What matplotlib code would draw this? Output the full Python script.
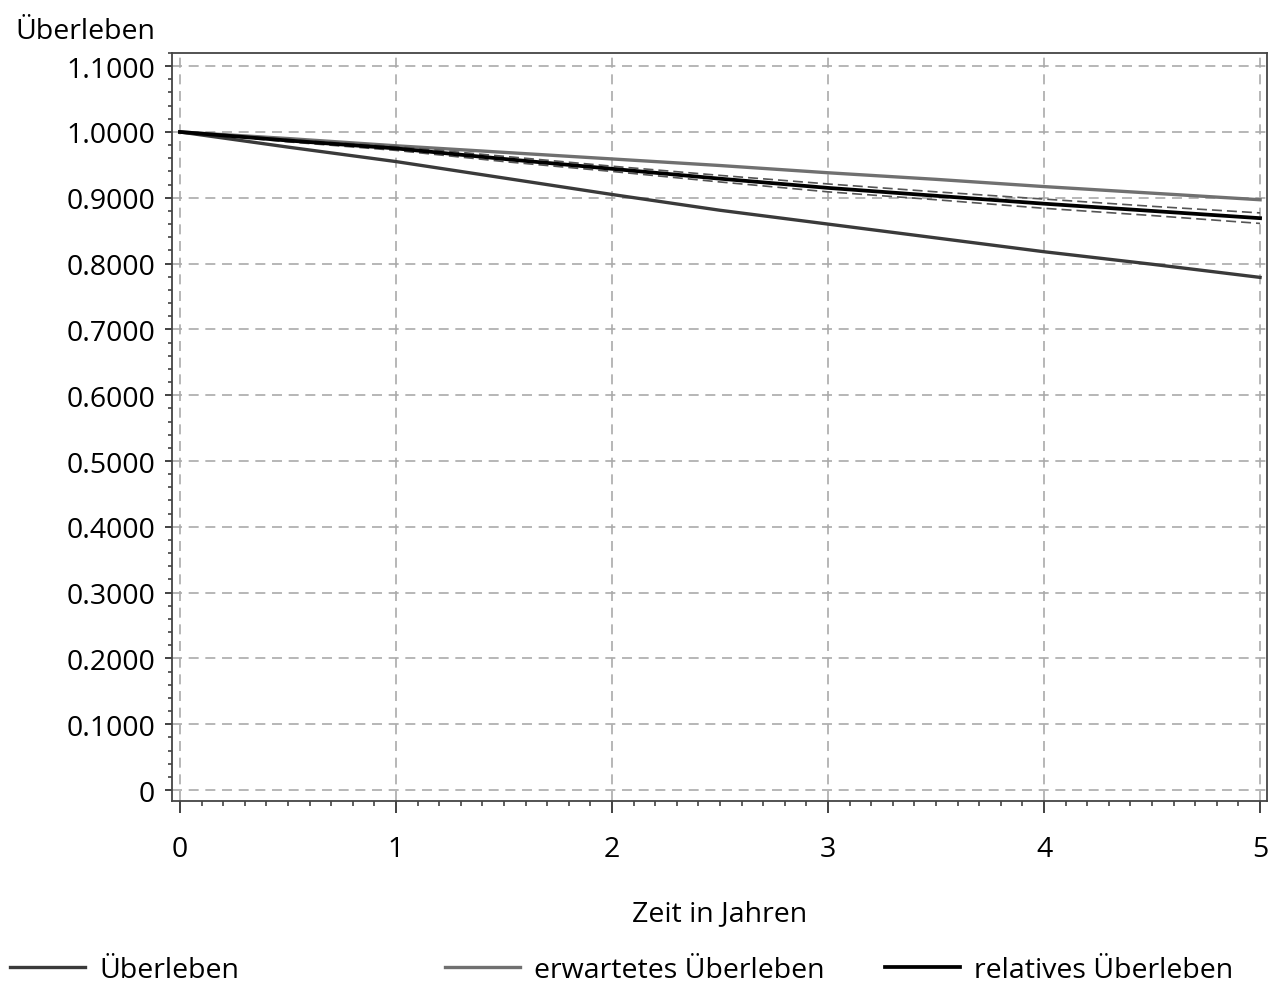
import matplotlib.pyplot as plt
import numpy as np
from matplotlib.ticker import MultipleLocator, FixedLocator

plt.rcParams['font.family'] = ['Open Sans', 'DejaVu Sans']

# Daten
zeit = [0, 0.5, 1, 1.5, 2, 2.5, 3, 3.5, 4, 4.5, 5]
ueberleben = [1.0, 0.977, 0.955, 0.930, 0.905, 0.881, 0.860, 0.839, 0.818, 0.799, 0.779]
erwartet = [1.0, 0.990, 0.979, 0.969, 0.959, 0.949, 0.938, 0.928, 0.917, 0.907, 0.897]
relativ = [1.0, 0.987, 0.975, 0.959, 0.944, 0.929, 0.915, 0.903, 0.891, 0.880, 0.869]
ki_oben = [1.0, 0.989, 0.978, 0.963, 0.948, 0.934, 0.921, 0.909, 0.898, 0.887, 0.877]
ki_unten = [1.0, 0.985, 0.972, 0.955, 0.940, 0.924, 0.909, 0.897, 0.884, 0.873, 0.861]

y_ticks = [0, 0.1, 0.2, 0.3, 0.4, 0.5, 0.6, 0.7, 0.8, 0.9, 1.0, 1.1]
y_labels = ["0"] + ["%.4f" % v for v in y_ticks[1:]]
x_ticks = [0, 1, 2, 3, 4, 5]

fs = 20.5
fig = plt.figure(figsize=(12.69, 9.87), dpi=100)
ax = fig.add_axes([0.1355, 0.1874, 0.8629, 0.7579])

grid_kw = dict(color="#aaaaaa", lw=1.2, dashes=(6, 4), zorder=1)
for v in x_ticks:
    ax.axvline(v, **grid_kw)
for v in y_ticks:
    ax.axhline(v, **grid_kw)

l1, = ax.plot(zeit, ueberleben, color="#3a3a3a", lw=2.4, zorder=3, label="Überleben")
l2, = ax.plot(zeit, erwartet, color="#707070", lw=2.4, zorder=3, label="erwartetes Überleben")
ax.plot(zeit, ki_oben, color="#555555", lw=1.2, dashes=(6, 3), zorder=3)
ax.plot(zeit, ki_unten, color="#555555", lw=1.2, dashes=(6, 3), zorder=3)
l3, = ax.plot(zeit, relativ, color="black", lw=2.7, zorder=4, label="relatives Überleben")

ax.set_xlim(-0.037, 5.032)
ax.set_ylim(-0.0167, 1.12)

ax.set_xticks(x_ticks)
ax.set_xticklabels([str(v) for v in x_ticks])
ax.xaxis.set_minor_locator(MultipleLocator(0.1))
ax.set_yticks(y_ticks)
ax.set_yticklabels(y_labels)
ax.yaxis.set_minor_locator(MultipleLocator(0.02))

ax.tick_params(axis="x", which="major", length=8.6, width=1.3, color="#333333",
               labelsize=fs, pad=16)
ax.tick_params(axis="x", which="minor", length=3.6, width=1.1, color="#333333")
ax.tick_params(axis="y", which="major", length=5, width=1.3, color="#333333",
               labelsize=fs, pad=7)
ax.tick_params(axis="y", which="minor", length=3.2, width=1.1, color="#333333")

for s in ax.spines.values():
    s.set_color("#444444")
    s.set_linewidth(1.3)

ax.set_xlabel("Zeit in Jahren", fontsize=fs, labelpad=26)
fig.text(15 / 1269, 1 - 32 / 987, "Überleben", fontsize=fs, ha="left", va="center")

for h, xpos in [(l1, 10), (l2, 445), (l3, 885)]:
    fig.legend(handles=[h], loc="center left", bbox_to_anchor=(xpos / 1269, 1 - 971 / 987),
               frameon=False, fontsize=fs, handlelength=2.64, handletextpad=0.5,
               borderpad=0, borderaxespad=0)

fig.savefig("out.png", dpi=100)
